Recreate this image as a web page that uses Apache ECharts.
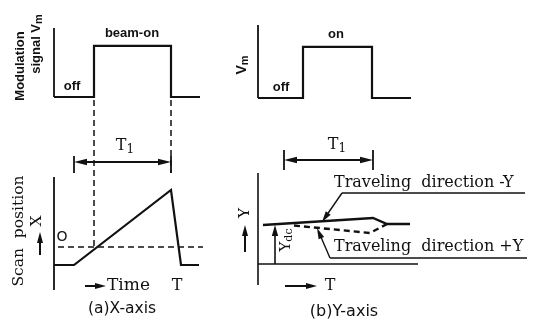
<!DOCTYPE html>
<html>
<head>
<meta charset="utf-8">
<script src="https://cdn.jsdelivr.net/npm/echarts/dist/echarts.min.js"></script>
<style>
  html, body { margin: 0; padding: 0; background: #fff; }
  #c { width: 536px; height: 326px; }
</style>
</head>
<body>
<div id="c"></div>
<script>
// ---------- (a) X-axis: modulation signal and scan position vs time ----------
const modTimeA  = [0, 4.0, 4.0, 11.7, 11.7, 14.6];
const modLevelA = [0, 0, 1, 1, 0, 0];
const scanTimeA = [0, 2.0, 11.7, 12.7, 14.5];
const scanPosA  = [-1.8, -1.8, 5.7, -1.8, -1.8];
const beamOnA = 4.0;
const beamOffA = 11.7;
const scanStartA = 2.0;

// ---------- (b) Y-axis: modulation signal and scan position vs time ----------
const modTimeB  = [0, 4.5, 4.5, 11.4, 11.4, 15.3];
const modLevelB = [0, 0, 1, 1, 0, 0];
const negYTime  = [0.5, 11.5, 12.9, 15.2];   // traveling direction -Y
const negYPos   = [3.9, 4.6, 4.0, 4.0];
const posYTime  = [3.6, 11.2, 12.9];         // traveling direction +Y
const posYPos   = [3.85, 3.1, 4.0];
const yDc = 3.9;
const spanB = [2.6, 11.5];

const INK = '#111';
const zip = (xs, ys) => xs.map((x, i) => [x, ys[i]]);

// straight segments with optional filled arrow heads, placed through the grid scales
function segSeries(grid, segs, opt) {
  const o = Object.assign({ width: 1.6, dash: null, head: 'none', len: 11, half: 3.2 }, opt);
  return {
    type: 'custom', xAxisIndex: grid, yAxisIndex: grid, silent: true, clip: false,
    data: segs,
    renderItem(params, api) {
      const a = api.coord([api.value(0), api.value(1)]);
      const b = api.coord([api.value(2), api.value(3)]);
      const dx = b[0] - a[0], dy = b[1] - a[1];
      const L = Math.hypot(dx, dy) || 1;
      const ux = dx / L, uy = dy / L;
      const kids = [];
      const headAt = (tip, sx, sy) => ({
        type: 'polygon',
        shape: { points: [
          tip,
          [tip[0] - sx * o.len - sy * o.half, tip[1] - sy * o.len + sx * o.half],
          [tip[0] - sx * o.len + sy * o.half, tip[1] - sy * o.len - sx * o.half]
        ] },
        style: { fill: INK }
      });
      let p1 = a.slice(), p2 = b.slice();
      if (o.head === 'end' || o.head === 'both') {
        p2 = [b[0] - ux * o.len * 0.8, b[1] - uy * o.len * 0.8];
        kids.push(headAt(b, ux, uy));
      }
      if (o.head === 'both') {
        p1 = [a[0] + ux * o.len * 0.8, a[1] + uy * o.len * 0.8];
        kids.push(headAt(a, -ux, -uy));
      }
      kids.unshift({
        type: 'line',
        shape: { x1: p1[0], y1: p1[1], x2: p2[0], y2: p2[1] },
        style: { stroke: INK, lineWidth: o.width, lineDash: o.dash }
      });
      return { type: 'group', children: kids };
    }
  };
}

function curve(grid, data, width, dash) {
  return {
    type: 'line', xAxisIndex: grid, yAxisIndex: grid, data, symbol: 'none',
    silent: true, animation: false,
    lineStyle: { color: INK, width, type: dash || 'solid', cap: 'butt', join: 'miter' }
  };
}

const axisOff = { show: false, type: 'value' };
const grids = [
  { left: 54,  top: 28,  width: 150, height: 69 },   // (a) modulation
  { left: 54,  top: 100, width: 150, height: 190 },  // (a) scan position
  { left: 258, top: 25,  width: 160, height: 73 },   // (b) modulation
  { left: 258, top: 140, width: 272, height: 150 }   // (b) scan position
];
const xAxes = [
  Object.assign({ gridIndex: 0, min: 0, max: 15 }, axisOff),
  Object.assign({ gridIndex: 1, min: 0, max: 15 }, axisOff),
  Object.assign({ gridIndex: 2, min: 0, max: 16 }, axisOff),
  Object.assign({ gridIndex: 3, min: 0, max: 27.2 }, axisOff)
];
const yAxes = [
  Object.assign({ gridIndex: 0, min: 0, max: 1.35 }, axisOff),
  Object.assign({ gridIndex: 1, min: -4.3, max: 14.7 }, axisOff),
  Object.assign({ gridIndex: 2, min: 0, max: 1.43 }, axisOff),
  Object.assign({ gridIndex: 3, min: -2.6, max: 12.4 }, axisOff)
];

const guideTopA = 14.7, spanLevelA = 8.5, barA = [7.4, 9.1];
const spanLevelB = 10.4, barB = [9.4, 11.4];
const minusLead = [8.4, 7.1, 6.4, 4.2], minusRuleEnd = 26.7;
const plusLead  = [7.2, 0.6, 5.9, 3.6], plusRuleEnd = 26.9;

const series = [
  // (a) modulation panel
  segSeries(0, [[0, 0, 0, 1.35]], { width: 1.8 }),
  curve(0, zip(modTimeA, modLevelA), 2.2),
  // (a) scan panel
  segSeries(1, [[0, -4.3, 0, 7.0]], { width: 1.8 }),
  curve(1, zip(scanTimeA, scanPosA), 2.2),
  segSeries(1, [[0.4, 0, 14.9, 0], [beamOnA, guideTopA, beamOnA, 0],
                [beamOffA, guideTopA, beamOffA, barA[0]]], { width: 1.5, dash: [6, 4] }),
  segSeries(1, [[scanStartA, spanLevelA, beamOffA, spanLevelA]], { width: 1.8, head: 'both', len: 13, half: 3.2 }),
  segSeries(1, [[scanStartA, barA[0], scanStartA, barA[1]], [beamOffA, barA[0], beamOffA, barA[1]]], { width: 1.8 }),
  segSeries(1, [[3.1, -3.9, 5.2, -3.9]], { width: 2, head: 'end', len: 11, half: 3 }),
  segSeries(1, [[-1.4, -0.8, -1.4, 1.5]], { width: 2, head: 'end', len: 11, half: 3 }),
  // (b) modulation panel
  segSeries(2, [[0, 0, 0, 1.43]], { width: 1.8 }),
  curve(2, zip(modTimeB, modLevelB), 2.2),
  // (b) scan panel
  segSeries(3, [[0, -2.1, 0, 9.1], [0, 0, 16, 0]], { width: 1.6 }),
  curve(3, zip(negYTime, negYPos), 2.4),
  curve(3, zip(posYTime, posYPos), 2.4, [6, 4]),
  segSeries(3, [[1.7, 0, 1.7, yDc]], { width: 1.6, head: 'end', len: 11, half: 3.2 }),
  segSeries(3, [[spanB[0], spanLevelB, spanB[1], spanLevelB]], { width: 1.8, head: 'both', len: 13, half: 3.2 }),
  segSeries(3, [[spanB[0], barB[0], spanB[0], barB[1]], [spanB[1], barB[0], spanB[1], barB[1]]], { width: 1.8 }),
  segSeries(3, [[minusLead[0], minusLead[1], minusRuleEnd, minusLead[1]],
                [plusLead[0], plusLead[1], plusRuleEnd, plusLead[1]]], { width: 1.4 }),
  segSeries(3, [minusLead, plusLead], { width: 1.4, head: 'end', len: 11, half: 3 }),
  segSeries(3, [[2.7, -2.2, 5.9, -2.2]], { width: 2, head: 'end', len: 11, half: 3 }),
  segSeries(3, [[-1.3, 1.2, -1.3, 3.9]], { width: 2, head: 'end', len: 11, half: 3 })
];

const SANS = 'Liberation Sans';
const SERIF = 'DejaVu Serif';
const CAP = 'DejaVu Sans';
function txt(x, y, text, font, size, extra) {
  return Object.assign({
    type: 'text', x, y, silent: true,
    style: Object.assign({ text, fill: INK, fontFamily: font, fontSize: size,
      align: 'center', verticalAlign: 'middle' }, extra && extra.style)
  }, extra && extra.el);
}
const UP = { rotation: Math.PI / 2 };
const BOLD = { fontWeight: 'bold' };
// base glyphs with a lowered, smaller subscript
const subRich = (font, size, subSize, weight) => ({
  rich: {
    b: { fontFamily: font, fontSize: size, fontWeight: weight || 'normal', fill: INK },
    s: { fontFamily: font, fontSize: subSize, fontWeight: weight || 'normal', fill: INK,
         padding: [size * 0.45, 0, 0, 0] }
  }
});

const graphic = [
  txt(20, 66, 'Modulation', SANS, 13, { el: UP, style: BOLD }),
  txt(36, 44, '{b|signal V}{s|m}', SANS, 13, { el: UP, style: subRich(SANS, 13, 11, 'bold') }),
  txt(132, 33, 'beam-on', SANS, 13, { style: BOLD }),
  txt(72, 86, 'off', SANS, 13, { style: BOLD }),
  txt(336, 34, 'on', SANS, 13, { style: BOLD }),
  txt(281, 87, 'off', SANS, 13, { style: BOLD }),
  txt(242, 65, '{b|V}{s|m}', SANS, 13, { el: UP, style: subRich(SANS, 14, 11, 'bold') }),
  txt(125, 146, '{b|T}{s|1}', SERIF, 16, { style: subRich(SERIF, 16, 12) }),
  txt(337, 145, '{b|T}{s|1}', SERIF, 16, { style: subRich(SERIF, 16, 12) }),
  txt(19, 231, 'Scan  position', SERIF, 15.5, { el: UP }),
  txt(37, 221, 'X', SERIF, 15.5, { el: UP }),
  txt(62, 237, 'O', CAP, 14),
  txt(107, 286, 'Time', SERIF, 17, { style: { align: 'left' } }),
  txt(177, 286, 'T', SERIF, 16),
  txt(122, 309, '(a)X-axis', CAP, 15.5),
  txt(245, 213, 'Y', SERIF, 15.5, { el: UP }),
  txt(286, 240, '{b|Y}{s|dc}', SERIF, 15, { el: UP, style: subRich(SERIF, 15, 11) }),
  txt(334, 183, 'Traveling  direction -Y', SERIF, 16, { style: { align: 'left' } }),
  txt(334, 247, 'Traveling  direction +Y', SERIF, 16, { style: { align: 'left' } }),
  txt(330, 286, 'T', SERIF, 16),
  txt(344, 312, '(b)Y-axis', CAP, 16)
];

const chart = echarts.init(document.getElementById('c'));
chart.setOption({
  animation: false,
  backgroundColor: '#fff',
  grid: grids,
  xAxis: xAxes,
  yAxis: yAxes,
  series,
  graphic
});
</script>
</body>
</html>
